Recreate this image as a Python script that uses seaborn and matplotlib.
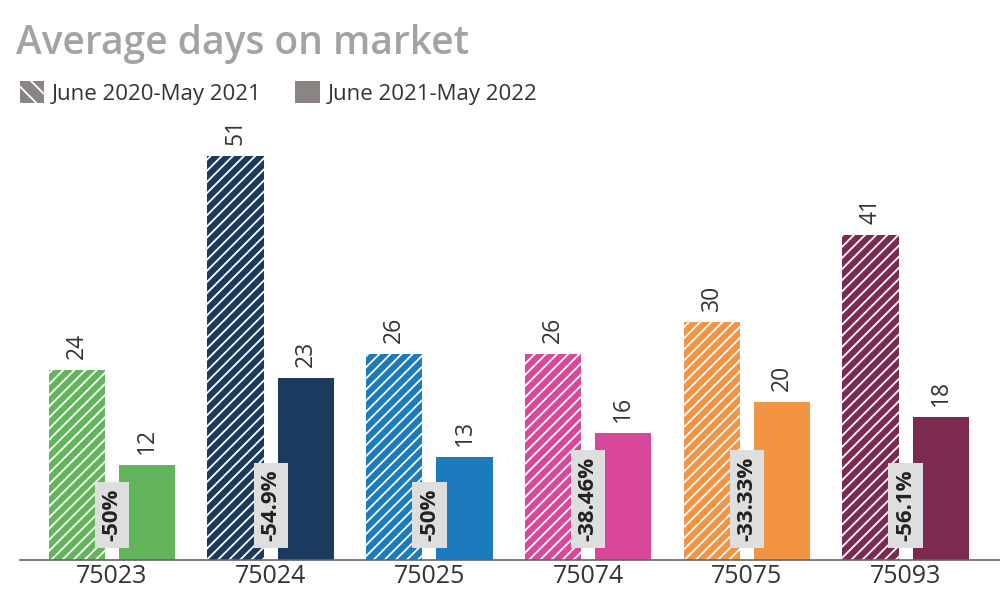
import matplotlib
matplotlib.use("Agg")
import matplotlib.pyplot as plt
import seaborn as sns
import pandas as pd
from matplotlib.patches import Patch

zips = ["75023", "75024", "75025", "75074", "75075", "75093"]
days_2021 = [24, 51, 26, 26, 30, 41]
days_2022 = [12, 23, 13, 16, 20, 18]
changes = ["-50%", "-54.9%", "-50%", "-38.46%", "-33.33%", "-56.1%"]
periods = ["June 2020-May 2021", "June 2021-May 2022"]
colors = ["#62b55a", "#1b3a5e", "#1b7bbd", "#d8479a", "#f39444", "#7d2a50"]

df = pd.DataFrame({
    "zip": zips * 2,
    "days": days_2021 + days_2022,
    "period": [periods[0]] * len(zips) + [periods[1]] * len(zips),
})

sns.set_theme(style="white")
plt.rcParams["font.family"] = ["Open Sans", "DejaVu Sans"]
plt.rcParams["hatch.linewidth"] = 1.3

fig = plt.figure(figsize=(10, 6.08), dpi=100)
ax = fig.add_axes([0.02, 48 / 608, 0.98, 430 / 608])

sns.barplot(data=df, x="zip", y="days", hue="period", hue_order=periods,
            width=0.886, gap=0.2, legend=False, ax=ax)

n = len(zips)
for i, bar in enumerate(ax.patches[:2 * n]):
    c = colors[i % n]
    bar.set_facecolor(c)
    bar.set_linewidth(0)
    if i < n:
        bar.set_edgecolor("white")
        bar.set_hatch("///")
    else:
        bar.set_edgecolor(c)
    x = bar.get_x() + bar.get_width() / 2
    h = bar.get_height()
    ax.text(x, h + 1.4, f"{h:.0f}", rotation=90, ha="center", va="bottom",
            fontsize=16.5, color="#333333")

# percent change boxes between the two bars
for i, lab in enumerate(changes):
    ax.text(i, 2.4, lab, rotation=90, ha="center", va="bottom", fontsize=16,
            fontweight="bold", color="#222222",
            bbox=dict(boxstyle="square,pad=0.3", facecolor="#dedede", edgecolor="none"))

ax.set_xlim(-0.58, 5.595)
ax.set_ylim(0, 54.3)
ax.set_xlabel("")
ax.set_ylabel("")
ax.set_yticks([])
sns.despine(ax=ax, left=True, top=True, right=True)
ax.spines["bottom"].set_color("#666666")
ax.spines["bottom"].set_linewidth(1.2)
ax.tick_params(axis="x", length=0, labelsize=18, colors="#333333", pad=3)

fig.text(0.016, 0.928, "Average days on market", fontsize=28, fontweight="semibold",
         color="#a3a3a3", va="center", ha="left")

handles = [Patch(facecolor="#8a8583", edgecolor="white", hatch="\\\\", linewidth=0),
           Patch(facecolor="#8a8583", edgecolor="#8a8583", linewidth=0)]
fig.legend(handles, periods, loc="center left", bbox_to_anchor=(0.0, 0.847),
           ncol=2, frameon=False, fontsize=16, handlelength=1.1, handleheight=1.1,
           handletextpad=0.35, columnspacing=1.5, labelcolor="#333333")

fig.savefig("out.png", dpi=100)
